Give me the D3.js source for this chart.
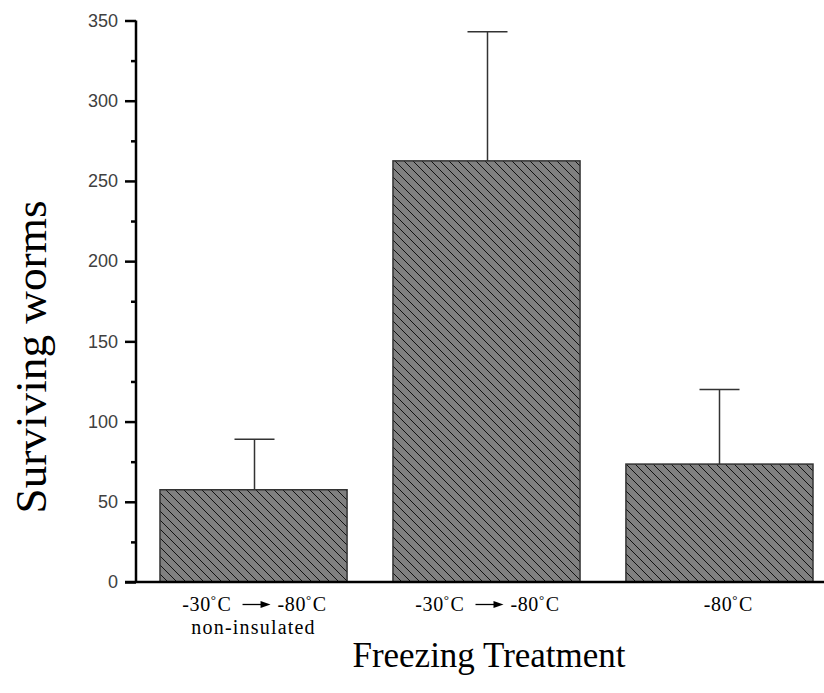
<!DOCTYPE html>
<html><head><meta charset="utf-8">
<script src="https://cdn.jsdelivr.net/npm/d3@7"></script>
<style>body{margin:0;background:#fff}svg{display:block}</style>
</head><body>
<svg id="c" width="824" height="693"></svg>
<script>
const categories = ["non-insulated", "insulated", "direct"];
const fromTemp = ["-30", "-30", null];
const toTemp = ["-80", "-80", "-80"];
const subLabels = ["non-insulated", "", ""];
const means = [57.5, 262.5, 73.5];
const errors = [31.5, 80.5, 46.5];
const yTicks = [0, 50, 100, 150, 200, 250, 300, 350];
const yMinorTicks = [25, 75, 125, 175, 225, 275, 325];

const svg = d3.select("#c");
const x = d3.scaleBand().domain(categories).range([136, 837]).paddingInner(0.197).paddingOuter(0.103);
const y = d3.scaleLinear().domain([0, 350]).range([582, 20.5]);

const defs = svg.append("defs");
const pat = defs.append("pattern").attr("id", "hatch").attr("patternUnits", "userSpaceOnUse")
  .attr("width", 9).attr("height", 9);
pat.append("rect").attr("width", 9).attr("height", 9).attr("fill", "#808080");
pat.append("path").attr("d", "M-1,-1L10,10M-1,8L1,10M8,-1L10,1").attr("stroke", "#111").attr("stroke-width", 1);

// bars
const g = svg.append("g");
g.selectAll("rect.bar").data(categories).join("rect").attr("class", "bar")
  .attr("x", d => x(d)).attr("width", x.bandwidth())
  .attr("y", (d, i) => y(means[i])).attr("height", (d, i) => y(0) - y(means[i]))
  .attr("fill", "url(#hatch)").attr("stroke", "#333").attr("stroke-width", 1.5);

// error bars
categories.forEach((c, i) => {
  const cx = Math.round(x(c) + x.bandwidth() / 2) + 0.5;
  g.append("line").attr("x1", cx).attr("x2", cx).attr("y1", y(means[i])).attr("y2", y(means[i] + errors[i]))
    .attr("stroke", "#333").attr("stroke-width", 1.5);
  g.append("line").attr("x1", cx - 20).attr("x2", cx + 20).attr("y1", y(means[i] + errors[i])).attr("y2", y(means[i] + errors[i]))
    .attr("stroke", "#333").attr("stroke-width", 1.5);
});

// y axis
const yAxis = svg.append("g").attr("transform", "translate(136,0)")
  .call(d3.axisLeft(y).tickValues(yTicks).tickSize(11).tickPadding(7));
yAxis.select(".domain").attr("stroke-width", 2.5).attr("d", `M0,${y(350)}V${y(0)}`);
yAxis.selectAll(".tick line").attr("stroke-width", 2.5);
yAxis.selectAll(".tick text").attr("font-family", "Liberation Sans, Arial, sans-serif").attr("font-size", 18).attr("fill", "#404040");
svg.append("g").attr("transform", "translate(136,0)")
  .call(d3.axisLeft(y).tickValues(yMinorTicks).tickSize(5).tickFormat(""))
  .call(s => { s.select(".domain").remove(); s.selectAll(".tick line").attr("stroke-width", 2.5); });

// x axis
const xAxis = svg.append("g").attr("transform", `translate(0,${y(0)})`)
  .call(d3.axisBottom(x).tickSize(0).tickFormat(""));
xAxis.select(".domain").attr("stroke-width", 2.5).attr("d", "M125,0H824");

// x tick labels
const serif = "Liberation Serif, Times New Roman, serif";
function tempText(sel, t, anchor) {
  const tx = sel.append("text").attr("font-family", serif).attr("font-size", 20).attr("fill", "#000")
    .attr("text-anchor", anchor).attr("letter-spacing", 0.6);
  tx.append("tspan").text(t);
  tx.append("tspan").attr("dy", -7).attr("font-size", 13).text("°");
  tx.append("tspan").attr("dy", 7).attr("dx", 1).text("C");
  return tx;
}
categories.forEach((c, i) => {
  const cx = x(c) + x.bandwidth() / 2;
  const lg = svg.append("g").attr("transform", `translate(${cx},611)`);
  if (fromTemp[i]) {
    tempText(lg, fromTemp[i], "end").attr("x", -22);
    lg.append("line").attr("x1", -11).attr("x2", 10).attr("y1", -6.5).attr("y2", -6.5).attr("stroke", "#000").attr("stroke-width", 1.3);
    lg.append("path").attr("d", "M7,-10L17,-6.5L7,-3Z").attr("fill", "#000");
    tempText(lg, toTemp[i], "start").attr("x", 24);
  } else {
    tempText(lg, toTemp[i], "middle").attr("x", 9);
  }
  if (subLabels[i]) {
    lg.append("text").attr("y", 23).attr("text-anchor", "middle").attr("font-family", serif)
      .attr("font-size", 20).attr("letter-spacing", 1.2).text(subLabels[i]);
  }
});

// axis titles
svg.append("text").attr("transform", "translate(46,357) rotate(-90)").attr("text-anchor", "middle")
  .attr("font-family", serif).attr("font-size", 44).attr("textLength", 313).attr("lengthAdjust", "spacingAndGlyphs")
  .text("Surviving worms");
svg.append("text").attr("x", 489).attr("y", 667).attr("text-anchor", "middle")
  .attr("font-family", serif).attr("font-size", 35).text("Freezing Treatment");
</script>
</body></html>
